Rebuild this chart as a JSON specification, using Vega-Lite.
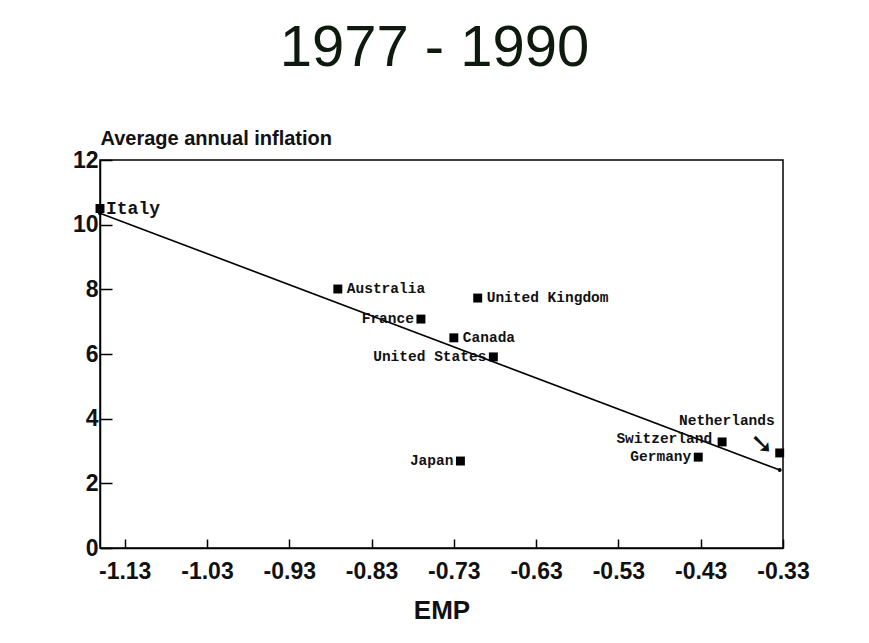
{
  "$schema": "https://vega.github.io/schema/vega-lite/v6.json",
  "autosize": "none",
  "width": 683,
  "height": 388,
  "padding": {"left": 100, "top": 160, "right": 86, "bottom": 95},
  "background": "white",
  "title": {"text": "1977 - 1990", "font": "Liberation Sans", "fontSize": 58, "fontWeight": "normal", "color": "#0d1a0d", "anchor": "middle", "baseline": "alphabetic", "offset": 4, "dx": -7},
  "config": {
    "view": {"stroke": "#000", "strokeWidth": 1.5},
    "axis": {"domainColor": "#000", "domainWidth": 1.5, "tickColor": "#000", "tickWidth": 1.5, "grid": false, "labelFont": "Liberation Sans", "labelFontWeight": "bold", "labelColor": "#111", "titleFont": "Liberation Sans", "titleFontWeight": "bold", "titleColor": "#111"}
  },
  "data": {"values": [
    {"country": "Italy", "emp": -1.16, "inflation": 10.5},
    {"country": "Australia", "emp": -0.871, "inflation": 8.01},
    {"country": "United Kingdom", "emp": -0.701, "inflation": 7.73},
    {"country": "France", "emp": -0.77, "inflation": 7.08},
    {"country": "Canada", "emp": -0.73, "inflation": 6.5},
    {"country": "United States", "emp": -0.682, "inflation": 5.91},
    {"country": "Japan", "emp": -0.722, "inflation": 2.69},
    {"country": "Switzerland", "emp": -0.404, "inflation": 3.28},
    {"country": "Germany", "emp": -0.433, "inflation": 2.81},
    {"country": "Netherlands", "emp": -0.334, "inflation": 2.94}
  ]},
  "encoding": {
    "x": {"field": "emp", "type": "quantitative",
      "scale": {"domain": [-1.16, -0.33], "nice": false, "zero": false},
      "axis": {"values": [-1.13, -1.03, -0.93, -0.83, -0.73, -0.63, -0.53, -0.43, -0.33], "labelExpr": "'-' + format(abs(datum.value), '.2f')", "tickSize": -9, "labelPadding": 21, "labelFontSize": 23, "title": "EMP", "titleFontSize": 26, "titlePadding": 14, "labelFlush": false}},
    "y": {"field": "inflation", "type": "quantitative",
      "scale": {"domain": [0, 12], "nice": false},
      "axis": {"values": [0, 2, 4, 6, 8, 10, 12], "tickSize": -12, "labelPadding": 14, "labelFontSize": 23, "labelFlush": false, "title": "Average annual inflation", "titleFontSize": 20, "titleAngle": 0, "titleAlign": "left", "titleBaseline": "alphabetic", "titleX": 0, "titleY": -16}}
  },
  "layer": [
    {"transform": [{"regression": "inflation", "on": "emp"}],
     "mark": {"type": "line", "color": "#000", "strokeWidth": 1.6, "clip": false, "point": {"filled": true, "size": 16, "color": "#000"}}},
    {"mark": {"type": "point", "shape": "square", "filled": true, "size": 80, "color": "#000", "opacity": 1, "clip": false}},
    {"transform": [{"filter": {"field": "country", "equal": "Italy"}}],
     "mark": {"type": "text", "font": "Liberation Mono", "fontWeight": "bold", "fontSize": 18, "align": "left", "baseline": "middle", "dx": 6, "color": "#111"},
     "encoding": {"text": {"field": "country"}}},
    {"transform": [{"filter": {"field": "country", "oneOf": ["Australia", "United Kingdom", "Canada"]}}],
     "mark": {"type": "text", "font": "Liberation Mono", "fontWeight": "bold", "fontSize": 14.5, "align": "left", "baseline": "middle", "dx": 9, "color": "#111"},
     "encoding": {"text": {"field": "country"}}},
    {"transform": [{"filter": {"field": "country", "oneOf": ["France", "United States", "Japan", "Germany"]}}],
     "mark": {"type": "text", "font": "Liberation Mono", "fontWeight": "bold", "fontSize": 14.5, "align": "right", "baseline": "middle", "dx": -7, "color": "#111"},
     "encoding": {"text": {"field": "country"}}},
    {"transform": [{"filter": {"field": "country", "equal": "Switzerland"}}],
     "mark": {"type": "text", "font": "Liberation Mono", "fontWeight": "bold", "fontSize": 14.5, "align": "right", "baseline": "middle", "dx": -10, "dy": -3, "color": "#111"},
     "encoding": {"text": {"field": "country"}}},
    {"transform": [{"filter": {"field": "country", "equal": "Netherlands"}}],
     "mark": {"type": "text", "font": "Liberation Mono", "fontWeight": "bold", "fontSize": 14.5, "align": "right", "baseline": "middle", "dx": -5, "dy": -32, "color": "#111"},
     "encoding": {"text": {"field": "country"}}},
    {"transform": [{"filter": {"field": "country", "equal": "Netherlands"}}],
     "mark": {"type": "text", "font": "DejaVu Sans", "fontSize": 28, "align": "center", "baseline": "middle", "dx": -18, "dy": -8, "color": "#111", "text": "➘"},
     "encoding": {}}
  ]
}
